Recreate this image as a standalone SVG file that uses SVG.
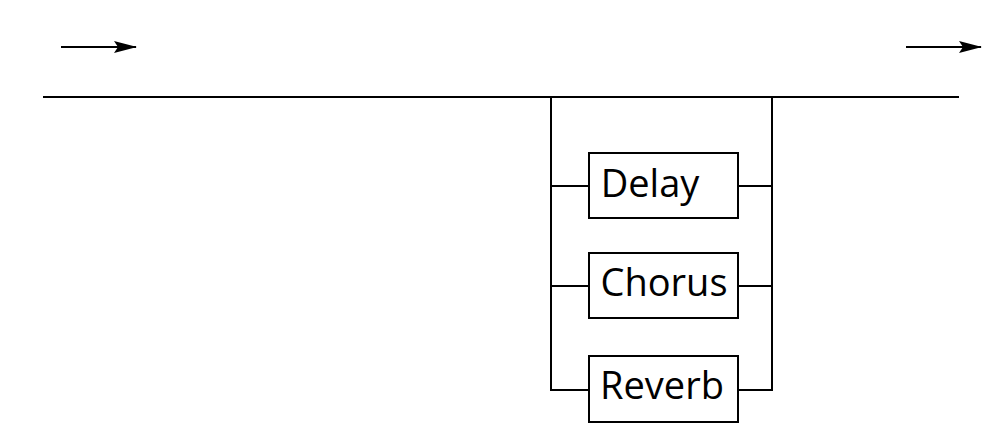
<svg xmlns="http://www.w3.org/2000/svg" width="1000" height="446" viewBox="0 0 1000 446">
<style>
.ln{stroke:#000;stroke-width:2;fill:none}
.box{stroke:#000;stroke-width:2;fill:#fff}
.lbl{font-family:"Open Sans","Noto Sans",sans-serif;font-size:38px;fill:#000;text-anchor:middle}
</style>
<defs>
<marker id="ah" markerWidth="24" markerHeight="14" refX="22" refY="7" orient="auto" markerUnits="userSpaceOnUse">
<path d="M0,1 L23,7 L0,13 L4,7 Z" fill="#000"/>
</marker>
</defs>
<rect width="1000" height="446" fill="#fff"/>
<g id="connectors">
<line class="ln" x1="61" y1="47" x2="136" y2="47" stroke-width="3.5" marker-end="url(#ah)"/>
<line class="ln" x1="906" y1="47" x2="981" y2="47" stroke-width="3.5" marker-end="url(#ah)"/>
<line class="ln" x1="43" y1="97" x2="959" y2="97"/>
<polyline class="ln" points="551,97 551,390 589,390"/>
<line class="ln" x1="551" y1="186" x2="589" y2="186"/>
<line class="ln" x1="551" y1="286" x2="589" y2="286"/>
<polyline class="ln" points="772,97 772,390 738,390"/>
<line class="ln" x1="738" y1="186" x2="772" y2="186"/>
<line class="ln" x1="738" y1="286" x2="772" y2="286"/>
</g>
<g id="delay">
<rect class="box" x="589" y="153" width="149" height="65"/>
<text class="lbl" x="650" y="197">Delay</text>
</g>
<g id="chorus">
<rect class="box" x="589" y="253" width="149" height="65"/>
<text class="lbl" x="664" y="296">Chorus</text>
</g>
<g id="reverb">
<rect class="box" x="589" y="356" width="149" height="66"/>
<text class="lbl" x="662" y="399">Reverb</text>
</g>
</svg>
